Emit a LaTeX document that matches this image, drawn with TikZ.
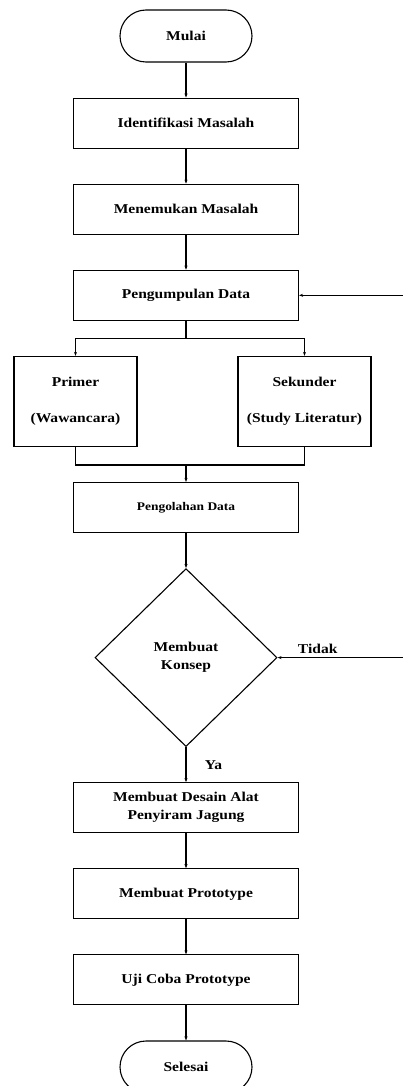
\documentclass[tikz,border=0pt]{standalone}
\usepackage{fontspec}
\setmainfont[FakeStretch=1.15]{Liberation Serif}
\usetikzlibrary{shapes, arrows.meta, positioning}

\begin{document}
\begin{tikzpicture}[
        x=1pt, y=-1pt,
        node distance=35pt and 20pt,
        font=\bfseries\fontsize{13.5}{18}\selectfont,
        terminal/.style={rectangle, draw, line width=1.1pt, rounded corners=26pt, minimum width=132pt, minimum height=52pt},
        proses/.style={rectangle, draw, line width=1.1pt, minimum width=225pt, minimum height=50pt, align=center},
        sumber/.style={rectangle, draw, line width=1.1pt, minimum height=90pt, align=center},
        keputusan/.style={diamond, draw, line width=1.1pt, minimum width=182pt, minimum height=178pt, inner sep=0pt, align=center},
        arrow/.style={-{Stealth[length=4pt, width=3pt]}, line width=1.1pt}
    ]
    \useasboundingbox (0,0) rectangle (403,1086);

    \node[terminal] (mulai) at (186,36) {Mulai};
    \node[proses] (ident) [below=of mulai] {Identifikasi Masalah};
    \node[proses] (temu) [below=of ident] {Menemukan Masalah};
    \node[proses] (kumpul) [below=of temu] {Pengumpulan Data};

    \coordinate[below=18pt of kumpul] (pisah);
    \node[sumber, minimum width=123pt] (primer) [below=of kumpul, xshift=-110.5pt] {Primer\\[18pt](Wawancara)};
    \node[sumber, minimum width=133pt] (sekunder) [below=of kumpul, xshift=118.5pt] {Sekunder\\[18pt](Study Literatur)};

    \path (primer.south -| kumpul.south) ++(0,18) coordinate (gabung);
    \node[proses, font=\bfseries\fontsize{11.7}{14}\selectfont] (olah) [below=17pt of gabung] {Pengolahan Data};
    \node[keputusan] (konsep) [below=of olah] {Membuat\\Konsep};
    \node[proses] (desain) [below=of konsep] {Membuat Desain Alat\\Penyiram Jagung};
    \node[proses] (proto) [below=of desain] {Membuat Prototype};
    \node[proses] (uji) [below=of proto] {Uji Coba Prototype};
    \node[terminal] (selesai) [below=of uji] {Selesai};

    \coordinate (tepi) at (403,0);

    \draw[arrow] (mulai) -- (ident);
    \draw[arrow] (ident) -- (temu);
    \draw[arrow] (temu) -- (kumpul);
    \draw[arrow] (kumpul.east -| tepi) -- (kumpul);
    \draw[line width=1.1pt] (kumpul) -- (pisah);
    \draw[arrow] (pisah) -| (primer);
    \draw[arrow] (pisah) -| (sekunder);
    \draw[line width=1.1pt] (primer) |- (gabung);
    \draw[line width=1.1pt] (sekunder) |- (gabung);
    \draw[arrow] (gabung) -- (olah);
    \draw[arrow] (olah) -- (konsep);
    \draw[arrow] (konsep.east -| tepi) -- node[above, pos=0.68] {Tidak} (konsep);
    \draw[arrow] (konsep) -- node[right=15pt] {Ya} (desain);
    \draw[arrow] (desain) -- (proto);
    \draw[arrow] (proto) -- (uji);
    \draw[arrow] (uji) -- (selesai);
    \end{tikzpicture}
\end{document}
